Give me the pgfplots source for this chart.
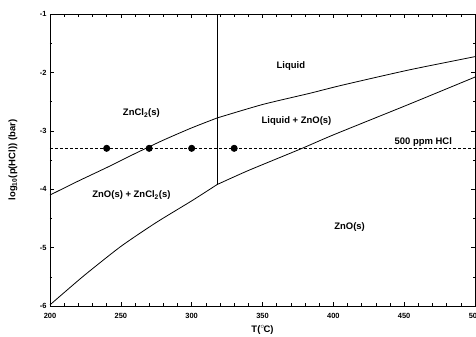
\documentclass[border=0pt]{standalone}
\usepackage{fontspec}
\setmainfont{Liberation Sans}
\usepackage{pgfplots}
\pgfplotsset{compat=1.18}

\begin{document}
\begin{tikzpicture}
\begin{axis}[
  scale only axis, width=425bp, height=292bp,
  xmin=200, xmax=500, ymin=-6, ymax=-1,
  xtick={200,250,300,350,400,450,500},
  xticklabels={200,250,300,350,400,450,500},
  ytick={-6,-5,-4,-3,-2,-1},
  yticklabels={-6,-5,-4,-3,-2,-1},
  minor x tick num=4, minor y tick num=1,
  tick align=inside, major tick length=4bp, minor tick length=2.5bp,
  tick style={black, line width=0.6pt},
  axis line style={line width=1pt},
  ticklabel style={font=\fontsize{7.5}{8}\selectfont\bfseries},
  xticklabel style={yshift=-4bp},
  label style={font=\fontsize{9.5}{10}\selectfont\bfseries},
  xlabel={T($^{\circ}$\kern-1.5pt C)},
  ylabel={log\textsubscript{10}(p(HCl)) (bar)},
  xlabel style={at={(axis description cs:0.5,-0.083)}, anchor=center},
  ylabel style={at={(axis description cs:-0.087,0.5)}, anchor=center},
  clip=false,
  every axis plot/.style={black, line width=0.8pt},
]
% ZnCl2(s) boundary below the melting point
\addplot[smooth, tension=0.4, no marks] coordinates {(200,-4.10) (220,-3.86) (240,-3.63) (260,-3.39) (280,-3.16) (300,-2.95) (318,-2.78)};
% liquid / liquid + ZnO(s) boundary
\addplot[smooth, tension=0.4, no marks] coordinates {(318,-2.78) (350,-2.55) (383,-2.36) (406,-2.22) (453,-1.96) (500,-1.73)};
% ZnO(s) boundary below the melting point
\addplot[smooth, tension=0.4, no marks] coordinates {(200,-5.98) (210,-5.77) (225,-5.46) (250,-4.98) (275,-4.57) (300,-4.20) (318,-3.92)};
% ZnO(s) boundary above the melting point
\addplot[smooth, tension=0.4, no marks] coordinates {(318,-3.92) (340,-3.68) (377,-3.31) (400,-3.07) (453,-2.55) (500,-2.08)};
% melting of ZnCl2
\addplot[no marks] coordinates {(318,-3.92) (318,-1)};
% 500 ppm HCl level
\addplot[no marks, line width=0.7pt, dash pattern=on 3pt off 2pt] coordinates {(200,-3.30) (500,-3.30)};
\addplot[only marks, mark=*, mark size=3.1pt] coordinates {(240,-3.30) (270,-3.30) (300,-3.30) (330,-3.30)};

\begin{scope}[every node/.style={font=\fontsize{9.5}{10}\selectfont\bfseries}]
\node at (axis cs:370,-1.89) {Liquid};
\node at (axis cs:264.5,-2.70) {ZnCl\textsubscript{2}(s)};
\node at (axis cs:374,-2.84) {Liquid + ZnO(s)};
\node at (axis cs:463.5,-3.20) {500 ppm HCl};
\node at (axis cs:257.5,-4.10) {ZnO(s) + ZnCl\textsubscript{2}(s)};
\node at (axis cs:411.5,-4.65) {ZnO(s)};
\end{scope}
\coordinate (sw) at (rel axis cs:0,0);
\coordinate (ne) at (rel axis cs:1,1);
\end{axis}
\pgfresetboundingbox
\path ([shift={(-50bp,-31bp)}]sw) rectangle ([shift={(1bp,14bp)}]ne);
\end{tikzpicture}
\end{document}
